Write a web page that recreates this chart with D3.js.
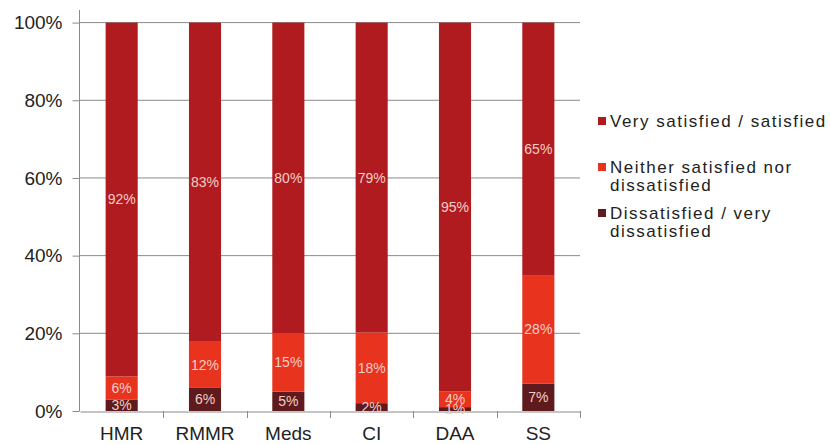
<!DOCTYPE html>
<html><head><meta charset="utf-8">
<script src="https://cdn.jsdelivr.net/npm/d3@7"></script>
<style>body{margin:0;background:#fff}svg{display:block}text{font-family:"Liberation Sans",Arial,sans-serif}</style>
</head><body><svg id="c" width="830" height="444"></svg>
<script>
const categories = ["HMR","RMMR","Meds","CI","DAA","SS"];
const dissatisfied = [3,6,5,2,1,7];
const neither = [6,12,15,18,4,28];
const satisfied = [92,83,80,79,95,65];
const seriesNames = ["Dissatisfied / very dissatisfied","Neither satisfied nor dissatisfied","Very satisfied / satisfied"];
const yTicks = [0,0.2,0.4,0.6,0.8,1];
const colors = ["#5e1a1c","#e8331f","#b01b1f"];

const rows = categories.map((c,i)=>({cat:c,d:dissatisfied[i],n:neither[i],s:satisfied[i]}));
const keys = ["d","n","s"];
const stacked = d3.stack().keys(keys).offset(d3.stackOffsetExpand)(rows);

const svg = d3.select("#c");
const x = d3.scaleBand().domain(categories).range([80,580]).paddingInner(0.615).paddingOuter(0.3075);
const y = d3.scaleLinear().domain([0,1]).range([411,22.6]);

// gridlines
svg.append("g").selectAll("line").data(yTicks.slice(1)).join("line")
  .attr("x1",80).attr("x2",580).attr("y1",d=>y(d)).attr("y2",d=>y(d))
  .attr("stroke","#8a8a8a").attr("stroke-width",1);

// y axis
const ya = svg.append("g").attr("transform","translate(79.5,0)")
  .call(d3.axisLeft(y).tickValues(yTicks).tickFormat(d3.format(".0%")).tickSize(7).tickPadding(10));
ya.select(".domain").remove();
ya.selectAll(".tick line").attr("stroke","#8a8a8a");
ya.selectAll("text").attr("font-size",19).attr("fill","#222");
svg.append("line").attr("x1",79.5).attr("x2",79.5).attr("y1",10).attr("y2",411).attr("stroke","#8a8a8a");

// x axis
const xa = svg.append("g").attr("transform","translate(0,411.5)")
  .call(d3.axisBottom(x).tickSize(0).tickPadding(15));
xa.select(".domain").attr("stroke","#8a8a8a");
xa.selectAll("text").attr("font-size",19).attr("fill","#222");
const step = x.step();
svg.append("g").selectAll("line").data(categories.slice(1).concat(["end"])).join("line")
  .attr("x1",(d,i)=>Math.round(80+step*(i+1))+0.5).attr("x2",(d,i)=>Math.round(80+step*(i+1))+0.5)
  .attr("y1",411).attr("y2",418).attr("stroke","#8a8a8a");

// bars
const g = svg.append("g");
stacked.forEach((layer,li)=>{
  g.append("g").selectAll("rect").data(layer).join("rect")
    .attr("x",d=>x(d.data.cat)).attr("width",x.bandwidth())
    .attr("y",d=>y(d[1])).attr("height",d=>y(d[0])-y(d[1]))
    .attr("fill",colors[li]);
});
stacked.forEach((layer,li)=>{
  g.append("g").selectAll("text").data(layer).join("text")
    .attr("x",d=>x(d.data.cat)+x.bandwidth()/2)
    .attr("y",d=>y((d[0]+d[1])/2)+5)
    .attr("text-anchor","middle").attr("font-size",14).attr("fill","#f4cdc6")
    .text(d=>d.data[keys[li]]+"%");
});

// legend
const legendItems = [
  {c:colors[2],lines:["Very satisfied / satisfied"],y:121},
  {c:colors[1],lines:["Neither satisfied nor","dissatisfied"],y:167},
  {c:colors[0],lines:["Dissatisfied / very","dissatisfied"],y:213}
];
const lg = svg.append("g");
legendItems.forEach(it=>{
  lg.append("rect").attr("x",598).attr("y",it.y-4).attr("width",8).attr("height",8).attr("fill",it.c);
  it.lines.forEach((t,j)=>{
    lg.append("text").attr("x",610).attr("y",it.y+6+j*18).attr("font-size",17)
      .attr("letter-spacing","1.5px").attr("fill","#222").text(t);
  });
});
</script></body></html>
